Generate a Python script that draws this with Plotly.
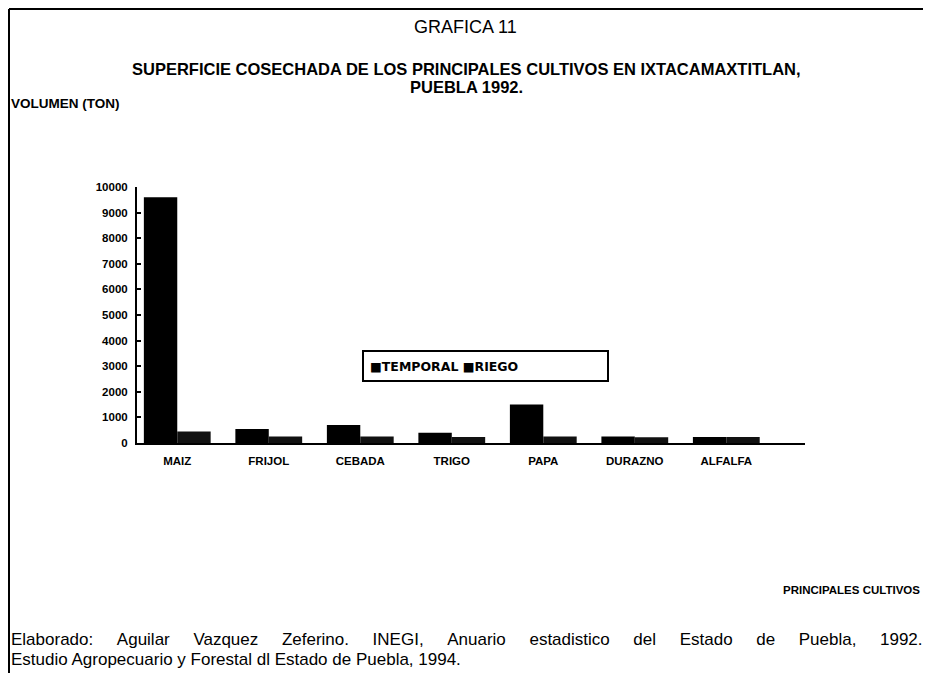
import plotly.graph_objects as go

cultivos = ["MAIZ", "FRIJOL", "CEBADA", "TRIGO", "PAPA", "DURAZNO", "ALFALFA"]
temporal = [9600, 550, 700, 400, 1500, 250, 230]
riego = [450, 250, 250, 230, 250, 220, 230]
y_ticks = [0, 1000, 2000, 3000, 4000, 5000, 6000, 7000, 8000, 9000, 10000]
y_labels = [str(v) for v in y_ticks]

# the page body has an 8px margin, so work in page pixels and shift
OFF = 8
W, H = 931 - 2 * OFF, 681 - 2 * OFF
L, R, T, B = 137 - OFF, 805 - OFF, 187 - OFF, 443 - OFF
ARIAL = "Liberation Sans, Arial, sans-serif"
WIDE = "DejaVu Sans, sans-serif"


def px(x):
    return (x - OFF - L) / (R - L)


def py(y):
    return (B - (y - OFF)) / (B - T)


def justify(s, extra):
    # widen the word gaps like the justified line of the source
    return (" " + "\u00a0" * extra).join(s.split(" "))


fig = go.Figure()

fig.add_trace(go.Bar(x=cultivos, y=temporal, name="TEMPORAL",
                     marker=dict(color="#000000", line=dict(width=0))))
fig.add_trace(go.Bar(x=cultivos, y=riego, name="RIEGO",
                     marker=dict(color="#111111", line=dict(width=0))))

bold = dict(family=ARIAL, size=11.5, color="black", weight="bold")

fig.update_layout(
    width=W, height=H,
    margin=dict(l=L, r=W - R, t=T, b=H - B),
    paper_bgcolor="white", plot_bgcolor="white",
    barmode="group", bargap=0.27, bargroupgap=0,
    font=dict(family=ARIAL, color="black"),
    showlegend=False,
    xaxis=dict(range=[-0.44, 6.86], showline=True, linecolor="black", linewidth=2,
               ticks="", tickfont=bold, ticklabelstandoff=6,
               showgrid=False, zeroline=False, fixedrange=True),
    yaxis=dict(range=[0, 10000], tickvals=y_ticks, ticktext=y_labels, showline=True,
               linecolor="black", linewidth=2, ticks="inside", ticklen=4, tickcolor="black",
               tickwidth=2, tickfont=bold, ticklabelstandoff=5,
               showgrid=False, zeroline=False, fixedrange=True),
)

ann = [
    dict(text="GRAFICA 11", x=px(465), y=py(27), size=18, xanchor="center", family=ARIAL),
    dict(text="<b>SUPERFICIE COSECHADA DE LOS PRINCIPALES CULTIVOS EN IXTACAMAXTITLAN,</b>",
         x=px(466), y=py(69), size=16.5, xanchor="center", family=ARIAL),
    dict(text="<b>PUEBLA 1992.</b>", x=px(466), y=py(87), size=16.5, xanchor="center", family=ARIAL),
    dict(text="<b>VOLUMEN (TON)</b>", x=px(9), y=py(103), size=13.5, xanchor="left", family=ARIAL),
    dict(text="<b>PRINCIPALES CULTIVOS</b>", x=px(922), y=py(590), size=11.5, xanchor="right",
         family=ARIAL),
    dict(text="<b>\u25a0TEMPORAL \u25a0RIEGO</b>", x=px(368), y=py(366), size=12.5, xanchor="left",
         family=WIDE),
    dict(text=justify("Elaborado: Aguilar Vazquez Zeferino. INEGI, Anuario estadistico "
                      "del Estado de Puebla, 1992.", 4),
         x=px(9), y=py(639), size=17, xanchor="left", family=ARIAL),
    dict(text="Estudio Agropecuario y Forestal dl Estado de Puebla, 1994.",
         x=px(9), y=py(659), size=17, xanchor="left", family=ARIAL),
]
for a in ann:
    fig.add_annotation(text=a["text"], x=a["x"], y=a["y"], xref="paper", yref="paper",
                       xanchor=a["xanchor"], yanchor="middle", showarrow=False,
                       font=dict(size=a["size"], color="black", family=a["family"]))

# legend box
fig.add_shape(type="rect", xref="paper", yref="paper", x0=px(363), x1=px(608),
              y0=py(351), y1=py(381), line=dict(color="black", width=2), fillcolor="white",
              layer="below")

# page frame (top and left)
fig.add_shape(type="line", xref="paper", yref="paper", x0=px(OFF + 1), x1=px(931), y0=py(OFF + 1),
              y1=py(OFF + 1), line=dict(color="black", width=2))
fig.add_shape(type="line", xref="paper", yref="paper", x0=px(OFF + 1), x1=px(OFF + 1), y0=py(OFF + 1),
              y1=py(681), line=dict(color="black", width=2))

fig.write_html("out.html")
